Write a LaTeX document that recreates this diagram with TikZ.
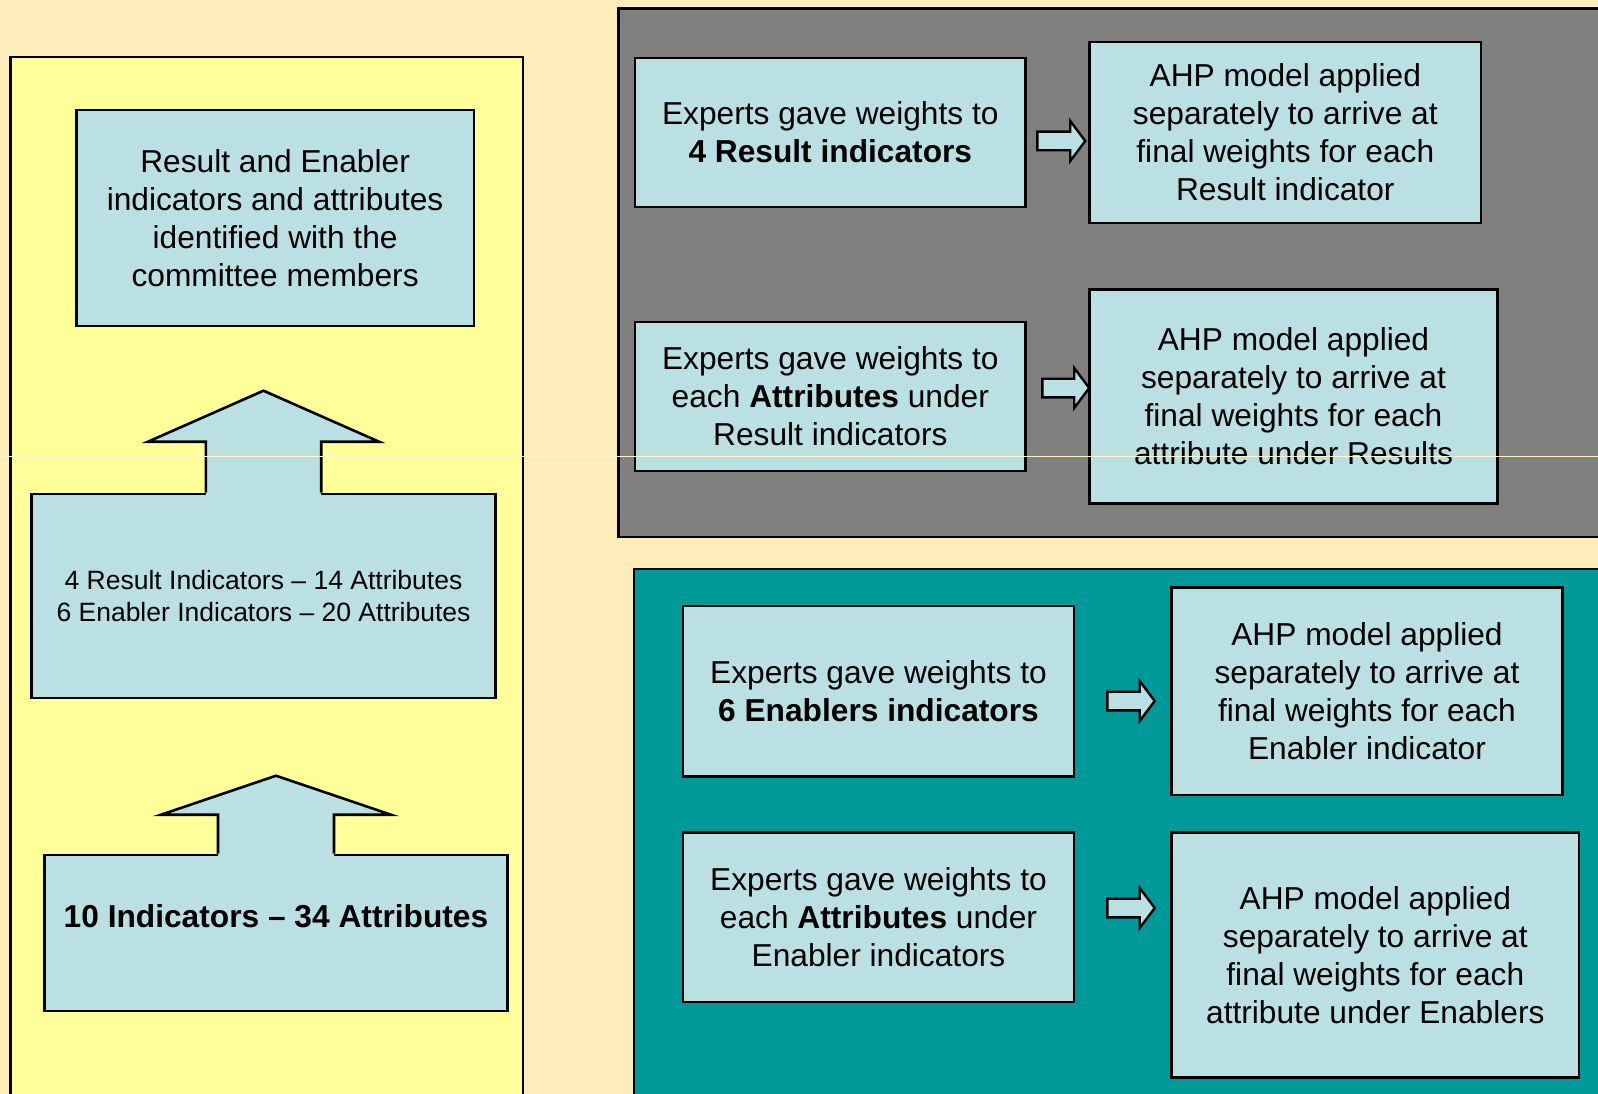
\documentclass[tikz,border=0pt]{standalone}
\usepackage{fontspec}
\setmainfont{Liberation Sans}
\usetikzlibrary{calc}

\definecolor{bgcream}{HTML}{FDEDBA}
\definecolor{paleyellow}{HTML}{FFFF99}
\definecolor{panelgray}{HTML}{808080}
\definecolor{panelteal}{HTML}{009999}
\definecolor{boxblue}{HTML}{BAE0E3}
\definecolor{seamline}{HTML}{FFF6C6}

\tikzset{
  outline/.style={draw=black, line width=2.6pt, line join=miter},
  panel/.style={outline},
  infobox/.style={outline, fill=boxblue, rectangle, inner sep=0pt, align=center,
    font=\fontsize{31.7}{38}\selectfont},
  smallbox/.style={infobox, font=\fontsize{26.5}{32}\selectfont},
}

% right-pointing block arrow from coordinate #1 to tip coordinate #2
\newcommand\rightblock[2]{%
  \filldraw[outline, fill=boxblue, line width=2.4pt] let \p1=(#1), \p2=(#2) in
    (\x1,{\y1+9.3pt}) -- ({\x2-15pt},{\y1+9.3pt}) -- ({\x2-15pt},{\y1+20pt})
    -- (\x2,\y1) -- ({\x2-15pt},{\y1-20pt}) -- ({\x2-15pt},{\y1-9.3pt})
    -- (\x1,{\y1-9.3pt}) -- cycle;
}

% upward block arrow growing out of the top of node #1
% #2 total length, #3 head length, #4 shaft half width, #5 head half width
\newcommand\upblock[5]{%
  \fill[boxblue] let \p1=(#1.north) in
    ({\x1-#4},{\y1-2.5pt}) -- ({\x1-#4},{\y1+#2-#3}) -- ({\x1-#5},{\y1+#2-#3})
    -- (\x1,{\y1+#2}) -- ({\x1+#5},{\y1+#2-#3}) -- ({\x1+#4},{\y1+#2-#3})
    -- ({\x1+#4},{\y1-2.5pt}) -- cycle;
  \draw[outline] let \p1=(#1.north) in
    ({\x1-#4},\y1) -- ({\x1-#4},{\y1+#2-#3}) -- ({\x1-#5},{\y1+#2-#3})
    -- (\x1,{\y1+#2}) -- ({\x1+#5},{\y1+#2-#3}) -- ({\x1+#4},{\y1+#2-#3})
    -- ({\x1+#4},\y1);
}

\begin{document}
\begin{tikzpicture}[x=1pt, y=-1pt]
  \useasboundingbox (0,0) rectangle (1598,1094);
  \fill[bgcream] (0,0) rectangle (1598,1094);

  % three background panels
  \filldraw[panel, fill=paleyellow] (10.5,57) rectangle (523,1110);
  \filldraw[panel, fill=panelgray] (618.6,8.5) rectangle (1612,537);
  \filldraw[panel, fill=panelteal] (634,569) rectangle (1612,1110);

  % left column
  \node[infobox, minimum width=397.4pt, minimum height=216pt] (ident) at (275.1,218)
    {Result and Enabler\\indicators and attributes\\identified with the\\committee members};
  \node[smallbox, minimum width=463.7pt, minimum height=204pt] (split) at (263.5,596)
    {4 Result Indicators – 14 Attributes\\6 Enabler Indicators – 20 Attributes};
  \node[infobox, minimum width=463.4pt, minimum height=156pt,
        text height=23pt, text depth=34pt] (total) at (276,933)
    {\textbf{10 Indicators – 34 Attributes}};

  \upblock{split}{102pt}{51pt}{57.7pt}{115.5pt}
  \upblock{total}{78pt}{39pt}{58pt}{115pt}

  % result indicators panel
  \node[infobox, minimum width=390.5pt, minimum height=149pt] (rw) at (830.3,132.5)
    {Experts gave weights to\\\textbf{4 Result indicators}};
  \node[infobox, minimum width=391.5pt, minimum height=181pt] (rahp) at (1285.3,132.5)
    {AHP model applied\\separately to arrive at\\final weights for each\\Result indicator};
  \node[infobox, minimum width=390.5pt, minimum height=149pt] (raw) at (830.3,396.5)
    {Experts gave weights to\\each \textbf{Attributes} under\\Result indicators};
  \node[infobox, minimum width=408pt, minimum height=214pt] (rahpa) at (1293.5,396.5)
    {AHP model applied\\separately to arrive at\\final weights for each\\attribute under Results};

  % enabler indicators panel
  \node[infobox, minimum width=391pt, minimum height=170.5pt] (ew) at (878.5,691.3)
    {Experts gave weights to\\\textbf{6 Enablers indicators}};
  \node[infobox, minimum width=391pt, minimum height=207.5pt] (eahp) at (1367,691.3)
    {AHP model applied\\separately to arrive at\\final weights for each\\Enabler indicator};
  \node[infobox, minimum width=391pt, minimum height=169.2pt] (eaw) at (878.5,917.2)
    {Experts gave weights to\\each \textbf{Attributes} under\\Enabler indicators};
  \node[infobox, minimum width=407.5pt, minimum height=245pt] (eahpa) at (1375.3,955)
    {AHP model applied\\separately to arrive at\\final weights for each\\attribute under Enablers};

  % arrow anchor points between the paired boxes
  \coordinate (r1s) at ($(rw.east)+(10.5,8.5)$);
  \coordinate (r1t) at ($(rahp.west)+(-3,8.5)$);
  \coordinate (r2s) at ($(raw.east)+(15.5,-8.5)$);
  \coordinate (r2t) at ($(rahpa.west)+(1,-8.5)$);
  \coordinate (e1s) at ($(ew.east)+(32,9.7)$);
  \coordinate (e1t) at ($(eahp.west)+(-15.5,9.7)$);
  \coordinate (e2s) at ($(eaw.east)+(32,-9.2)$);
  \coordinate (e2t) at ($(eahpa.west)+(-15.5,-47)$);

  \rightblock{r1s}{r1t}
  \rightblock{r2s}{r2t}
  \rightblock{e1s}{e1t}
  \rightblock{e2s}{e2t}

  % faint horizontal seam across the sheet
  \draw[seamline, line width=0.9pt] (0,456) -- (1598,456);
\end{tikzpicture}
\end{document}
